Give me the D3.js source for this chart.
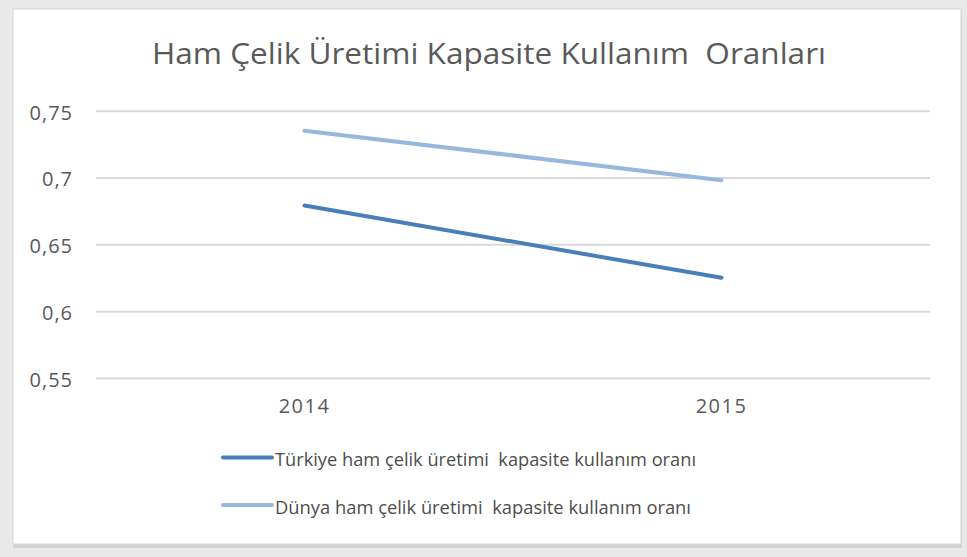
<!DOCTYPE html>
<html>
<head>
<meta charset="utf-8">
<script src="https://cdn.jsdelivr.net/npm/d3@7"></script>
<style>
  html, body { margin: 0; padding: 0; background: #e9e9e9; }
  svg { display: block; font-family: "Open Sans", "DejaVu Sans", sans-serif; }
  text { white-space: pre; }
</style>
</head>
<body>
<svg id="chart" width="967" height="557"></svg>
<script>
// Chart data
const years = ["2014", "2015"];
const turkiye = [0.679, 0.625];
const dunya = [0.735, 0.698];
const yTicks = [0.55, 0.6, 0.65, 0.7, 0.75];
const seriesNames = [
  "Türkiye ham çelik üretimi  kapasite kullanım oranı",
  "Dünya ham çelik üretimi  kapasite kullanım oranı"
];
const seriesColors = ["#4a7ebb", "#98b7de"];
const titleText = "Ham Çelik Üretimi Kapasite Kullanım  Oranları";

const svg = d3.select("#chart");
const W = 967, H = 557;

// Frame: gray surround, soft bottom shadow, white panel
svg.append("rect").attr("x", 0).attr("y", 0).attr("width", W).attr("height", H).attr("fill", "#e9e9e9");
svg.append("rect").attr("x", 13).attr("y", 12).attr("width", 949).attr("height", 536)
  .attr("fill", "#c4c4c4").attr("opacity", 0.6);
svg.append("rect").attr("x", 13).attr("y", 9).attr("width", 948).attr("height", 535)
  .attr("fill", "#ffffff").attr("stroke", "#d6d6d6").attr("stroke-width", 1);

// Scales
const x = d3.scaleBand().domain(years).range([96, 930]);
const y = d3.scaleLinear().domain([0.55, 0.75]).range([378, 110.7]);
const fmt = d => String(+d.toFixed(2)).replace(".", ",");

// Gridlines and value labels
const yAxis = d3.axisLeft(y).tickValues(yTicks).tickSize(-(930 - 96)).tickFormat(fmt).tickPadding(23);
const gy = svg.append("g").attr("transform", "translate(96,0)").call(yAxis);
gy.select(".domain").remove();
gy.selectAll(".tick line").attr("stroke", "#d9d9d9").attr("stroke-width", 2);
gy.selectAll(".tick text").attr("fill", "#595959").attr("font-size", 20)
  .attr("letter-spacing", 1).attr("dy", "0.42em")
  .attr("font-family", "'Open Sans', sans-serif");

// Category axis labels
const xAxis = d3.axisBottom(x).tickSize(0).tickPadding(21);
const gx = svg.append("g").attr("transform", "translate(0,378)").call(xAxis);
gx.select(".domain").remove();
gx.selectAll(".tick text").attr("fill", "#595959").attr("font-size", 20)
  .attr("letter-spacing", 1.5)
  .attr("font-family", "'Open Sans', sans-serif");

// Lines
const line = d3.line().x((d, i) => x(years[i]) + x.bandwidth() / 2).y(d => y(d));
[turkiye, dunya].forEach((s, i) => {
  svg.append("path").datum(s).attr("d", line)
    .attr("fill", "none").attr("stroke", seriesColors[i])
    .attr("stroke-width", 4).attr("stroke-linecap", "round");
});

// Title
svg.append("text").attr("x", 489).attr("y", 64).attr("text-anchor", "middle")
  .attr("fill", "#595959").attr("font-size", 29)
  .attr("textLength", 674).attr("lengthAdjust", "spacingAndGlyphs")
  .text(titleText);

// Legend
const legendY = [457.5, 505];
const textWidths = [421, 416];
seriesNames.forEach((name, i) => {
  svg.append("line").attr("x1", 223).attr("x2", 272)
    .attr("y1", legendY[i]).attr("y2", legendY[i])
    .attr("stroke", seriesColors[i]).attr("stroke-width", 4).attr("stroke-linecap", "round");
  svg.append("text").attr("x", 275).attr("y", legendY[i] + 8.5)
    .attr("fill", "#4d4d4d").attr("font-size", 18.5)
    .attr("textLength", textWidths[i]).attr("lengthAdjust", "spacingAndGlyphs")
    .text(name);
});
</script>
</body>
</html>
